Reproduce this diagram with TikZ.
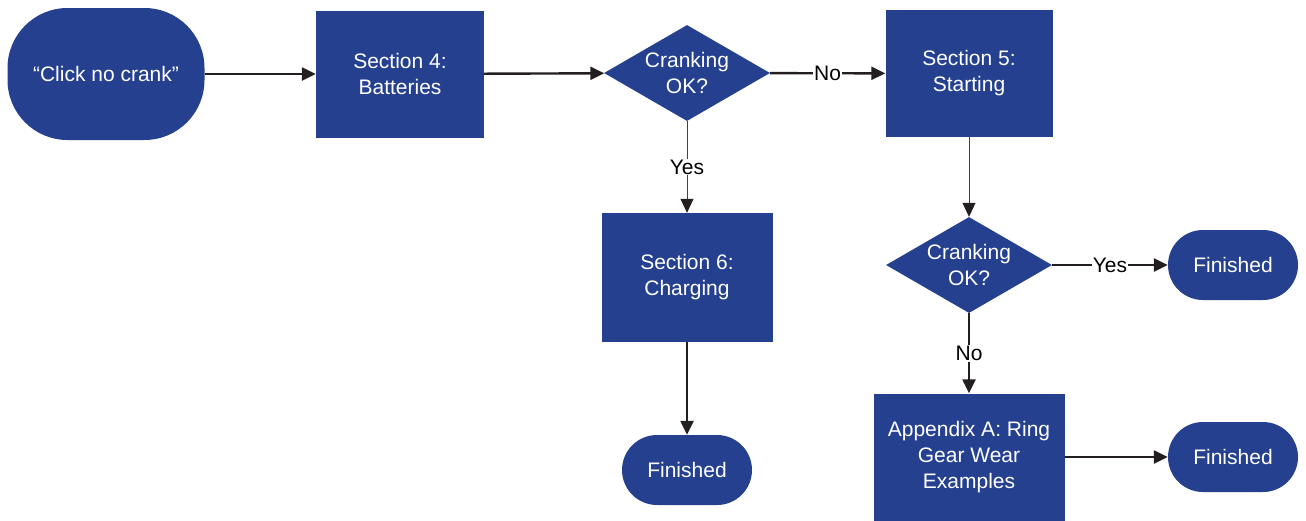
\documentclass[tikz,border=0pt]{standalone}
\usepackage{fontspec}
\setmainfont{Liberation Sans}
\usetikzlibrary{shapes.geometric,arrows.meta}
\definecolor{flowblue}{HTML}{25408F}
\definecolor{flowline}{HTML}{231F20}
\tikzset{
box/.style={
  rectangle,
  fill=flowblue,
  text=white,
  align=center,
  inner sep=0pt,
  font=\fontsize{21}{26}\selectfont
  },
process/.style={box, minimum width=#1, minimum height=127pt},
terminal/.style={box, rounded corners=35pt, minimum width=130pt, minimum height=70pt},
decision/.style={box, diamond, shape aspect=1.7, minimum width=166pt, minimum height=96pt},
flow/.style={draw=flowline, line width=2.4pt, -{Triangle[length=14pt,width=13pt]}},
thin/.style={draw=flowblue, line width=0.8pt, -{Triangle[length=14pt,width=13pt,color=flowline]}},
answer/.style={fill=white, text=black, inner sep=1pt, font=\fontsize{21}{24}\selectfont}
}
\begin{document}
\begin{tikzpicture}[x=1pt,y=-1pt]
    \useasboundingbox (0,0) rectangle (1306,520);
    % top row
    \node [box, rounded corners=60pt, minimum width=197pt, minimum height=132pt] (click) at (106,74) {“Click no crank”};
    \node [process=168pt] (batt) at (400,74) {Section 4:\\Batteries};
    \node [decision] (ok1) at (687,73) {Cranking\\OK?};
    \node [process=167pt] (start) at (969,73.5) {Section 5:\\Starting};
    % left branch
    \node [process=171pt, minimum height=129pt] (charge) at (687,277.5) {Section 6:\\Charging};
    \node [terminal] (fin1) at (687,470) {Finished};
    % right branch
    \node [decision] (ok2) at (969,265) {Cranking\\OK?};
    \node [terminal] (fin2) at (1233,265) {Finished};
    \node [process=191pt] (ring) at (969,457) {Appendix A: Ring\\Gear Wear\\Examples};
    \node [terminal] (fin3) at (1233,457) {Finished};

    \draw [flow] (click) -- (batt);
    \draw [flow] (batt) -- (ok1);
    \draw [flow] (ok1) -- node [answer] {No} (start);
    \draw [thin] (ok1) -- node [answer] {Yes} (charge);
    \draw [flow] (charge) -- (fin1);
    \draw [thin] (start) -- (ok2);
    \draw [flow] (ok2) -- node [answer] {Yes} (fin2);
    \draw [flow] (ok2) -- node [answer] {No} (ring);
    \draw [flow] (ring) -- (fin3);
\end{tikzpicture}
\end{document}
